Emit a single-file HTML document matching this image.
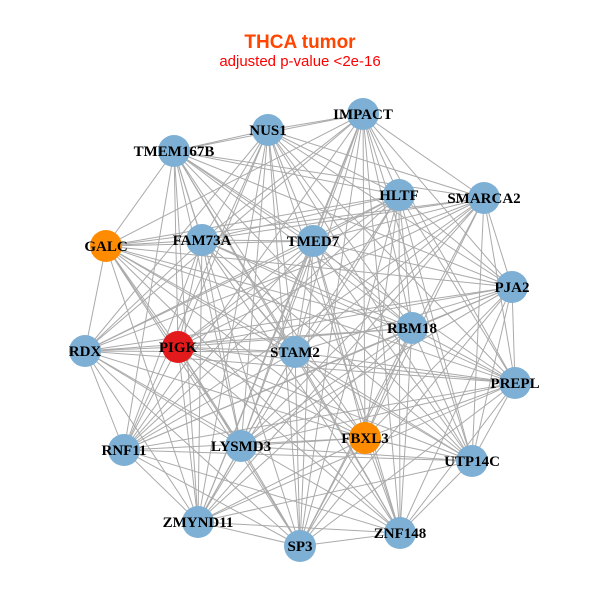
<!DOCTYPE html>
<html><head><meta charset="utf-8"><style>
html,body{margin:0;padding:0;background:#fff;}
svg{display:block}
</style></head><body>
<svg id="s" width="600" height="600" xmlns="http://www.w3.org/2000/svg">
<rect width="600" height="600" fill="#fff"/>
<text x="300" y="48" text-anchor="middle" font-family="Liberation Sans, sans-serif" font-weight="bold" font-size="19" fill="#FF4500">THCA tumor</text>
<text x="300" y="66" text-anchor="middle" font-family="Liberation Sans, sans-serif" font-size="15" fill="#FF0000">adjusted p-value &lt;2e-16</text>
<g id="e" stroke="#aaaaaa" stroke-width="1"></g>
<g id="n"></g>
</svg>
<script>
var N=[["IMPACT",363,114,"#7EB0D5"],["NUS1",268,130,"#7EB0D5"],["TMEM167B",174,151,"#7EB0D5"],["HLTF",399,195,"#7EB0D5"],["SMARCA2",484,198,"#7EB0D5"],["GALC",106,246,"#FF8C00"],["FAM73A",202,240,"#7EB0D5"],["TMED7",313,241,"#7EB0D5"],["PJA2",512,287,"#7EB0D5"],["RBM18",412,328,"#7EB0D5"],["RDX",85,351,"#7EB0D5"],["PIGK",178,347,"#E31A1C"],["STAM2",295,352,"#7EB0D5"],["PREPL",515,383,"#7EB0D5"],["RNF11",124,450,"#7EB0D5"],["LYSMD3",241,446,"#7EB0D5"],["FBXL3",365,438,"#FF8C00"],["UTP14C",472,461,"#7EB0D5"],["ZMYND11",198,522,"#7EB0D5"],["SP3",300,546,"#7EB0D5"],["ZNF148",400,533,"#7EB0D5"]];
var ns="http://www.w3.org/2000/svg",e=document.getElementById("e"),g=document.getElementById("n");
for(var i=0;i<N.length;i++)for(var j=i+1;j<N.length;j++){
 if((i*7+j*3)%11==0)continue;
 var l=document.createElementNS(ns,"line");
 l.setAttribute("x1",N[i][1]);l.setAttribute("y1",N[i][2]);l.setAttribute("x2",N[j][1]);l.setAttribute("y2",N[j][2]);e.appendChild(l);}
N.forEach(function(a){var c=document.createElementNS(ns,"circle");c.setAttribute("cx",a[1]);c.setAttribute("cy",a[2]);c.setAttribute("r",16);c.setAttribute("fill",a[3]);g.appendChild(c);});
N.forEach(function(a){var t=document.createElementNS(ns,"text");t.setAttribute("x",a[1]);t.setAttribute("y",a[2]+5);t.setAttribute("text-anchor","middle");t.setAttribute("font-family","Liberation Serif, serif");t.setAttribute("font-weight","bold");t.setAttribute("font-size","15");t.textContent=a[0];g.appendChild(t);});
</script>
</body></html>
